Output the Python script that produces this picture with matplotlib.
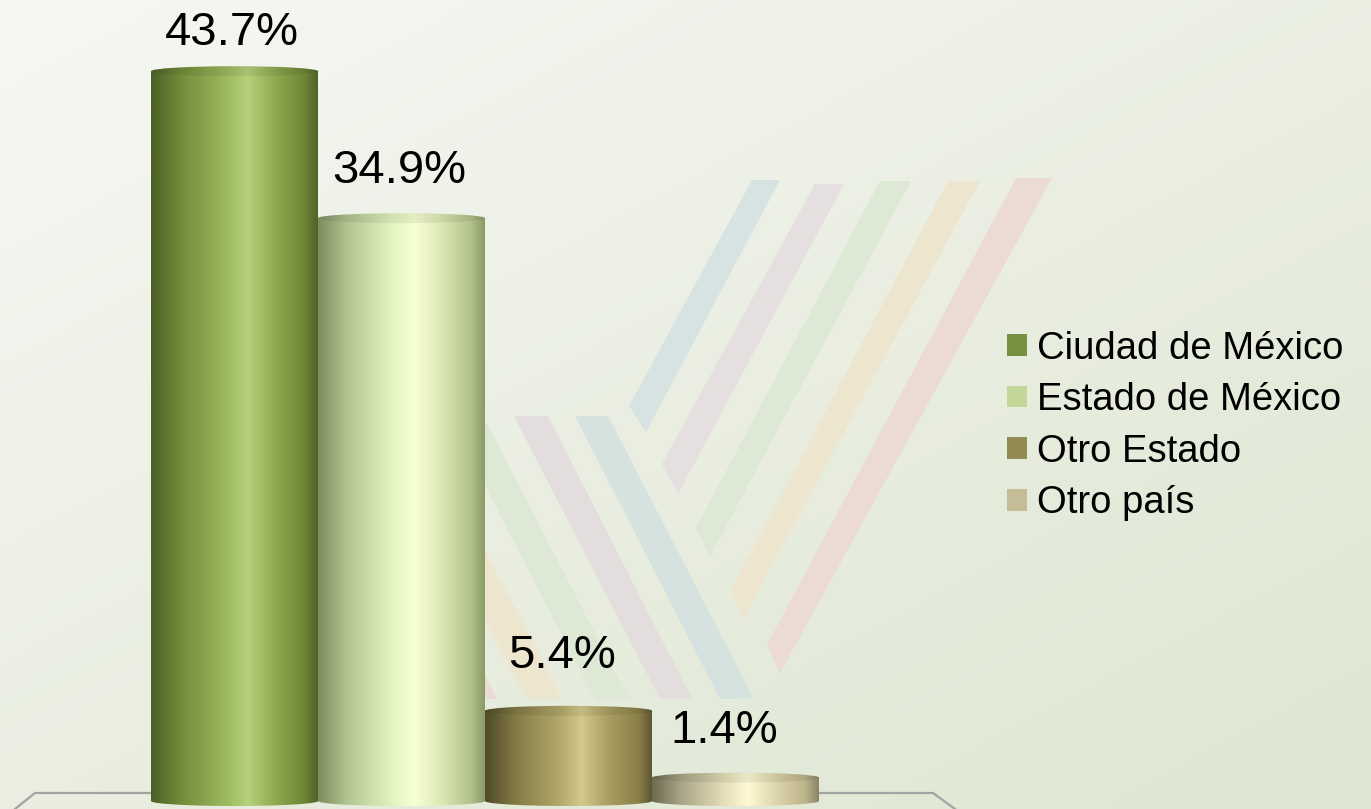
# Cylinder bar chart: place of residence (%)
import numpy as np
import matplotlib.pyplot as plt
from matplotlib.colors import LinearSegmentedColormap, to_rgb
from matplotlib.patches import Ellipse, PathPatch, Polygon, Patch
from matplotlib.path import Path

plt.rcParams['font.family'] = ['Liberation Sans', 'DejaVu Sans']

# Data
categories = ['Ciudad de México', 'Estado de México', 'Otro Estado', 'Otro país']
values = [43.7, 34.9, 5.4, 1.4]
value_labels = ['43.7%', '34.9%', '5.4%', '1.4%']

# Styles
legend_colors = ['#77923f', '#c3d79b', '#938953', '#c4bd97']
shade_stops = [
    ['#4b5f27', '#738c3a', '#9cba5e', '#b5d27c', '#8fab50', '#6e8636', '#4f6328'],
    ['#7e8c5e', '#b3c692', '#e4f5bf', '#f8ffd4', '#dce9b4', '#b1c189', '#8c9a68'],
    ['#4f4a28', '#837a45', '#b3a96c', '#d3c98c', '#a99f64', '#8a8148', '#5e5731'],
    ['#6e6a50', '#aca68a', '#e8e2bc', '#fffad6', '#ddd5ac', '#bdb48c', '#8a8466'],
]
stop_pos = [0, 0.18, 0.45, 0.58, 0.74, 0.92, 1]
# label offsets from top of cylinder, in pixels (dx, dy)
label_dx = [-3, -2, -7, -11]
label_dy = [26, 35, 43, 35]

W, H = 1371, 809
fig = plt.figure(figsize=(W / 100, H / 100), dpi=100)

# background with soft gradient and faint watermark
bg = fig.add_axes([0, 0, 1, 1])
bg.set_xlim(0, W)
bg.set_ylim(H, 0)
bg.axis('off')
gx, gy = np.meshgrid(np.linspace(0, 1, 200), np.linspace(0, 1, 120))
t = np.clip(0.5 * gx + 0.55 * gy, 0, 1)[..., None]
c0 = np.array(to_rgb('#f6f7f3'))
c1 = np.array(to_rgb('#dfe7d2'))
bg.imshow(c0 + (c1 - c0) * t, extent=[0, W, H, 0], aspect='auto', interpolation='bilinear')

stripes = [
    ([(752, 180), (780, 180), (646, 432), (629, 406)], '#d7e3e3'),
    ([(815, 184), (844, 184), (678, 494), (662, 464)], '#e6dfe0'),
    ([(880, 181), (911, 181), (710, 556), (696, 528)], '#dde9d5'),
    ([(948, 181), (980, 181), (743, 619), (731, 590)], '#eee5cf'),
    ([(1016, 178), (1052, 178), (780, 673), (767, 645)], '#ecdad4'),
    ([(315, 416), (351, 416), (497, 699), (461, 699)], '#ebdad4'),
    ([(380, 416), (416, 416), (562, 699), (526, 699)], '#eee5cf'),
    ([(449, 416), (483, 416), (629, 699), (595, 699)], '#dde9d5'),
    ([(514, 416), (548, 416), (692, 699), (660, 699)], '#e3dddd'),
    ([(575, 416), (608, 416), (754, 699), (720, 699)], '#d6e2df'),
]
for pts, col in stripes:
    bg.add_patch(Polygon(pts, closed=True, fc=col, ec='none'))

# floor outline
bg.plot([15, 35, 933, 955], [809, 793, 793, 809], color='#a3a3a3', lw=1.6)

# chart axes
px_per_unit = 16.7
base_px = 801
ax = fig.add_axes([151 / W, 0, 668 / W, 1])
ax.patch.set_alpha(0)
ax.axis('off')

x = np.arange(len(values))
bars = ax.bar(x, values, width=1.0, color=legend_colors, zorder=1)

e = 10 / px_per_unit
grad = np.linspace(0, 1, 256).reshape(1, -1)
for i, b in enumerate(bars):
    x0, w, h = b.get_x(), b.get_width(), b.get_height()
    xc = x0 + w / 2
    cm = LinearSegmentedColormap.from_list('c%d' % i, list(zip(stop_pos, shade_stops[i])))

    ang = np.linspace(np.pi, 2 * np.pi, 80)
    verts = [(x0, h), (x0, 0)] + list(zip(xc + w / 2 * np.cos(ang), e / 2 * np.sin(ang))) + [(x0 + w, h), (x0, h)]
    body = PathPatch(Path(verts), fc='none', ec='none')
    ax.add_patch(body)
    im = ax.imshow(grad, cmap=cm, extent=[x0, x0 + w, -e / 2, h], aspect='auto',
                   interpolation='bicubic', zorder=2)
    im.set_clip_path(body)

    top = Ellipse((xc, h), w, e, fc='none', ec='none')
    ax.add_patch(top)
    im2 = ax.imshow(grad, cmap=cm, extent=[x0, x0 + w, h - e / 2, h + e / 2], aspect='auto',
                    interpolation='bicubic', zorder=3)
    im2.set_clip_path(top)
    ax.add_patch(Ellipse((xc, h), w, e, fc='black', alpha=0.07, ec='none', zorder=4))

    ax.annotate(value_labels[i], xy=(xc, h), xytext=(label_dx[i] * 0.72, label_dy[i] * 0.72),
                textcoords='offset points', ha='center', va='baseline', fontsize=34,
                color='black', zorder=5)

ax.set_xlim(-0.5, 3.5)
ax.set_ylim(-(H - base_px) / px_per_unit, base_px / px_per_unit)

# legend
handles = [Patch(facecolor=c, edgecolor='none') for c in legend_colors]
fig.legend(handles, categories, loc='center left', bbox_to_anchor=(1007 / W, 1 - 426 / H),
           frameon=False, prop={'size': 27.5}, handlelength=0.52, handleheight=0.5,
           handletextpad=0.26, labelspacing=0.41, borderpad=0, borderaxespad=0)

fig.savefig('out.png', dpi=100)
